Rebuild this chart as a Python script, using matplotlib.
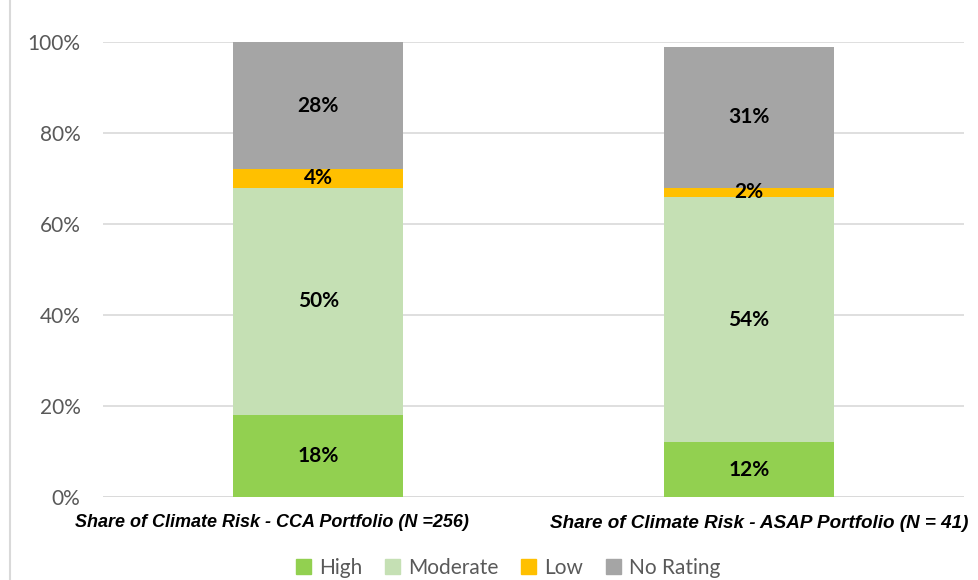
import matplotlib.pyplot as plt
import numpy as np
from matplotlib.lines import Line2D

portfolios = ["Share of Climate Risk - CCA Portfolio (N =256)",
              "Share of Climate Risk - ASAP Portfolio (N = 41)"]
levels = ["High", "Moderate", "Low", "No Rating"]
high = [18, 12]
moderate = [50, 54]
low = [4, 2]
no_rating = [28, 31]
colors = ["#92d050", "#c5e0b4", "#ffc000", "#a5a5a5"]

plt.rcParams['font.family'] = ['Lato', 'DejaVu Sans']

fig = plt.figure(figsize=(9.79, 5.8), dpi=100)
ax = fig.add_axes([0.105, 0.1431, 0.88, 0.7845])

x = np.arange(len(portfolios))
bottom = np.zeros(len(portfolios))
for name, vals, c in zip(levels, [high, moderate, low, no_rating], colors):
    vals = np.array(vals, dtype=float)
    ax.bar(x, vals, 0.395, bottom=bottom, color=c, label=name, zorder=2)
    for xi, b, v in zip(x, bottom, vals):
        ax.text(xi, b + v / 2, f"{int(v)}%", ha="center", va="center",
                fontsize=15, fontweight="bold", color="black", zorder=3)
    bottom += vals

ax.set_xlim(-0.5, 1.5)
ax.set_ylim(0, 100)
ax.set_yticks(range(0, 101, 20))
ax.set_yticklabels([f"{t}%" for t in range(0, 101, 20)], color="#595959", fontsize=15)
ax.yaxis.grid(True, color="#d9d9d9", linewidth=1.2, zorder=0)
ax.tick_params(axis="y", length=0, pad=16)
ax.set_xticks([])
for s in ax.spines.values():
    s.set_visible(False)
ax.axhline(0, color="#d9d9d9", linewidth=1.2, zorder=1)

# category labels, offset a bit like the original
lab_font = ["Liberation Sans Narrow", "Liberation Sans", "DejaVu Sans"]
ax.text(-0.108, -0.055, portfolios[0], transform=ax.get_xaxis_transform(),
        ha="center", va="center", fontsize=13, fontweight="bold",
        style="italic", family=lab_font)
ax.text(1.024, -0.058, portfolios[1], transform=ax.get_xaxis_transform(),
        ha="center", va="center", fontsize=13.6, fontweight="bold",
        style="italic", family=lab_font)

handles = [plt.Rectangle((0, 0), 1, 1, color=c) for c in colors]
fig.legend(handles, levels, loc="center", bbox_to_anchor=(0.519, 0.021),
           ncol=4, frameon=False, fontsize=15, handlelength=0.7,
           handleheight=0.7, handletextpad=0.4, columnspacing=1.1,
           labelcolor="#595959")

# left frame line of the original chart area
fig.add_artist(Line2D([0.0105, 0.0105], [0, 1], color="#d9d9d9", linewidth=1.5))

fig.savefig("out.png", dpi=100)
